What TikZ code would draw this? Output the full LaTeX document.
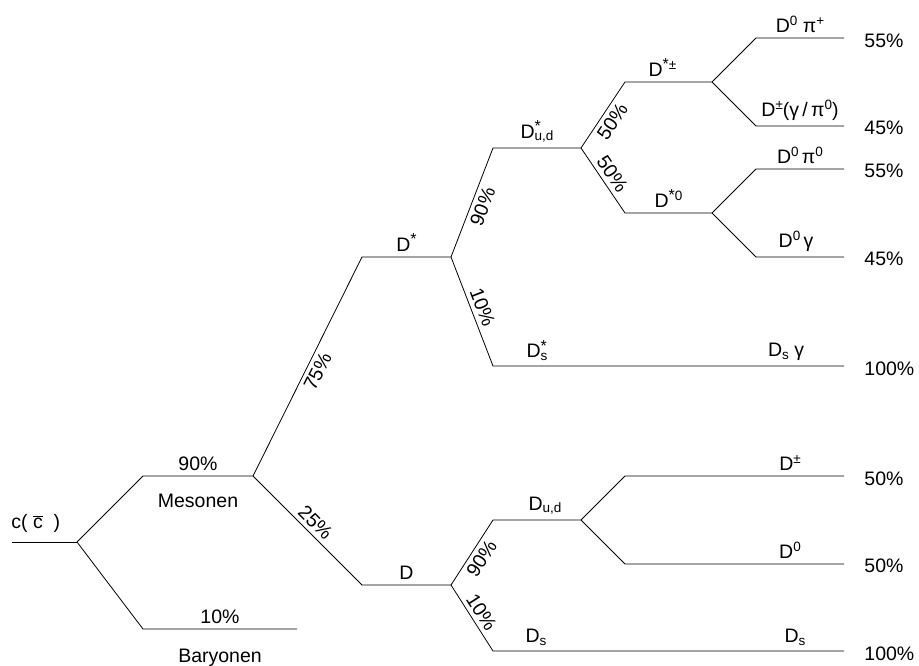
\documentclass[tikz,border=0pt]{standalone}
\usepackage{fontspec}
\setmainfont{Liberation Sans}
% raised / lowered small indices for particle names
\newcommand\hi[1]{\raisebox{0.34em}{\fontsize{13.5}{13.5}\selectfont #1}}
\newcommand\lo[1]{\raisebox{-0.14em}{\fontsize{13.5}{13.5}\selectfont #1}}
\newcommand\hilo[2]{\rlap{\raisebox{0.34em}{\fontsize{13.5}{13.5}\selectfont #1}}\lo{#2}}
\newcommand\st{{\fontsize{16}{16}\selectfont *}}
\begin{document}
\begin{tikzpicture}[x=1pt,y=-1pt,line width=0.8pt,
  every node/.style={font=\fontsize{19.5}{21}\selectfont},
  pct/.style={sloped,inner sep=4pt},
  lbl/.style={above,inner sep=5pt},
  lblb/.style={below,inner sep=18pt},
  frac/.style={anchor=west,inner sep=0pt}]
\useasboundingbox (0,0) rectangle (919,666);

% branch points
\coordinate (c0) at (12,542);   \coordinate (c1) at (77,542);
\coordinate (m0) at (143,476);  \coordinate (m1) at (253,476);
\coordinate (b0) at (143,629);  \coordinate (b1) at (297,629);
\coordinate (ds0) at (362,257); \coordinate (ds1) at (451,257);
\coordinate (d0) at (362,585);  \coordinate (d1) at (451,585);
\coordinate (ud0) at (493,148); \coordinate (ud1) at (581,148);
\coordinate (sx0) at (493,366); \coordinate (sx1) at (844,366);
\coordinate (pm0) at (625,82);  \coordinate (pm1) at (712,82);
\coordinate (zz0) at (625,213); \coordinate (zz1) at (712,213);
\coordinate (e10) at (756,38);  \coordinate (e11) at (844,38);
\coordinate (e20) at (756,126); \coordinate (e21) at (844,126);
\coordinate (e30) at (756,169); \coordinate (e31) at (844,169);
\coordinate (e40) at (756,257); \coordinate (e41) at (844,257);
\coordinate (du0) at (493,520); \coordinate (du1) at (581,520);
\coordinate (sb0) at (493,651); \coordinate (sb1) at (844,651);
\coordinate (f10) at (625,476); \coordinate (f11) at (844,476);
\coordinate (f20) at (625,564); \coordinate (f21) at (844,564);

% quark and first split
\draw (c0) -- (c1);
\node[anchor=west,inner sep=0pt] (q) at (11,523) {c(\ $\overline{\hbox{c}}$\ \ )};
\draw (c1) -- (m0) -- node[lbl] (p90) {90\%} node[lblb] (mes) {Mesonen} (m1);
\draw (c1) -- (b0) -- node[lbl] (p10) {10\%} node[lblb,inner sep=20pt] (bar) {Baryonen} (b1);

% mesons: D* and D
\draw (m1) -- node[pct,below] (p75) {75\%} (ds0) -- node[lbl] (ldst) {D\hi{\st}} (ds1);
\draw (m1) -- node[pct,above,pos=0.5] (p25) {25\%} (d0) -- node[lbl] (ld) {D} (d1);

% D* branches
\draw (ds1) -- node[pct,below] {90\%} (ud0) -- node[lbl] (lud) {D\hilo{\st}{u,d}} (ud1);
\draw (ds1) -- node[pct,above] {10\%} (sx0) -- (sx1);
\node[lbl] (ldss) at (537,366) {D\hilo{\st}{s}};
\node[lbl] (ldsg) at (786,366) {D\lo{s} γ};
\node[frac] (r5) at (864,369) {100\%};

% D*u,d branches
\draw (ud1) -- node[pct,below] {50\%} (pm0) -- node[lbl,xshift=-6pt] (lpm) {D\hi{\st±}} (pm1);
\draw (ud1) -- node[pct,above] {50\%} (zz0) -- node[lbl] (lzz) {D\hi{\st0}} (zz1);

\draw (pm1) -- (e10) -- node[lbl] (l1) {D\hi{0}\ π\hi{+}} (e11);
\draw (pm1) -- (e20) -- node[lbl] (l2) {D\hi{±}(γ\,/\,π\hi{0})} (e21);
\draw (zz1) -- (e30) -- node[lbl] (l3) {D\hi{0}\,π\hi{0}} (e31);
\draw (zz1) -- (e40) -- node[lbl,xshift=-4pt] (l4) {D\hi{0}\,γ} (e41);
\node[frac] (r1) at (864,41) {55\%};
\node[frac] (r2) at (864,128) {45\%};
\node[frac] (r3) at (864,171) {55\%};
\node[frac] (r4) at (864,259) {45\%};

% D branches
\draw (d1) -- node[pct,below] {90\%} (du0) -- node[lbl,xshift=8pt] (ldu) {D\lo{u,d}} (du1);
\draw (d1) -- node[pct,above] {10\%} (sb0) -- (sb1);
\node[lbl] (lds1) at (536,651) {D\lo{s}};
\node[lbl] (lds2) at (795,651) {D\lo{s}};
\draw (du1) -- (f10) -- (f11);
\draw (du1) -- (f20) -- (f21);
\node[lbl] (ldp) at (790,476) {D\hi{±}};
\node[lbl] (ld0) at (790,564) {D\hi{0}};
\node[frac] (r6) at (864,479) {50\%};
\node[frac] (r7) at (864,566) {50\%};
\node[frac] (r8) at (864,654) {100\%};
\end{tikzpicture}
\end{document}
